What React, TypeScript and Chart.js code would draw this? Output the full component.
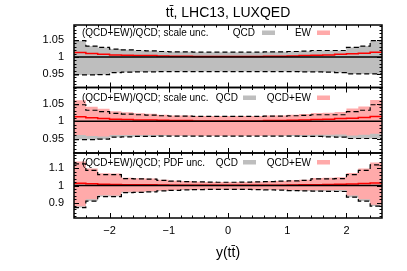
import React, { useEffect, useRef } from 'react';
import { Chart, registerables } from 'chart.js';

Chart.register(...registerables);

// ---------- data ----------
const binEdges = [-2.6, -2.4, -2.2, -2.0, -1.8, -1.6, -1.4, -1.2, -1.0, -0.8, -0.6, -0.4, -0.2, 0, 0.2, 0.4, 0.6, 0.8, 1.0, 1.2, 1.4, 1.6, 1.8, 2.0, 2.2, 2.4, 2.6];

// (QCD+EW)/QCD central ratio
const ewRatio = [1.013, 1.010, 1.008, 1.006, 1.005, 1.004, 1.004, 1.003, 1.002, 1.002, 1.001, 1.001, 1.001, 1.001, 1.001, 1.001, 1.002, 1.002, 1.003, 1.004, 1.005, 1.006, 1.008, 1.009, 1.011, 1.014];

// QCD scale uncertainty band
const qcdScaleUp = [1.048, 1.032, 1.028, 1.023, 1.021, 1.019, 1.018, 1.016, 1.015, 1.015, 1.014, 1.014, 1.014, 1.014, 1.014, 1.014, 1.015, 1.015, 1.016, 1.017, 1.019, 1.019, 1.019, 1.028, 1.032, 1.048];
const qcdScaleLo = [0.947, 0.947, 0.948, 0.954, 0.955, 0.956, 0.956, 0.957, 0.957, 0.957, 0.957, 0.957, 0.957, 0.957, 0.957, 0.957, 0.957, 0.957, 0.957, 0.956, 0.956, 0.955, 0.954, 0.950, 0.950, 0.950];

// QCD+EW scale uncertainty band
const qcdEwScaleUp = [1.061, 1.042, 1.036, 1.029, 1.026, 1.023, 1.022, 1.019, 1.017, 1.017, 1.015, 1.015, 1.015, 1.015, 1.015, 1.015, 1.017, 1.017, 1.019, 1.021, 1.024, 1.025, 1.027, 1.037, 1.043, 1.062];
const qcdEwScaleLo = [0.960, 0.957, 0.956, 0.960, 0.960, 0.960, 0.960, 0.960, 0.959, 0.959, 0.958, 0.958, 0.958, 0.958, 0.958, 0.958, 0.959, 0.959, 0.960, 0.960, 0.961, 0.961, 0.962, 0.959, 0.961, 0.964];

// QCD PDF uncertainty band
const qcdPdfUp = [1.127, 1.089, 1.064, 1.064, 1.040, 1.039, 1.037, 1.030, 1.026, 1.023, 1.021, 1.020, 1.019, 1.019, 1.020, 1.021, 1.023, 1.025, 1.027, 1.030, 1.039, 1.039, 1.040, 1.064, 1.088, 1.121];
const qcdPdfLo = [0.871, 0.909, 0.935, 0.935, 0.958, 0.960, 0.963, 0.968, 0.972, 0.974, 0.976, 0.977, 0.977, 0.977, 0.977, 0.976, 0.975, 0.973, 0.970, 0.968, 0.967, 0.966, 0.965, 0.932, 0.909, 0.880];

// QCD+EW PDF uncertainty band
const qcdEwPdfUp = [1.140, 1.099, 1.072, 1.070, 1.045, 1.043, 1.041, 1.033, 1.028, 1.025, 1.022, 1.021, 1.020, 1.020, 1.021, 1.022, 1.025, 1.027, 1.030, 1.034, 1.044, 1.045, 1.048, 1.073, 1.099, 1.135];
const qcdEwPdfLo = [0.878, 0.919, 0.943, 0.941, 0.963, 0.964, 0.967, 0.971, 0.974, 0.976, 0.977, 0.978, 0.978, 0.978, 0.978, 0.977, 0.977, 0.975, 0.973, 0.972, 0.972, 0.972, 0.973, 0.941, 0.920, 0.887];

const refValue = 1;
const xRange = [-2.6, 2.6];

const titleText = 'tt\u0304, LHC13, LUXQED';
const xTitleText = 'y(tt\u0304)';
const panelLabels = ['(QCD+EW)/QCD; scale unc.', '(QCD+EW)/QCD; scale unc.', '(QCD+EW)/QCD; PDF unc.'];
const legendNames = [['QCD', 'EW'], ['QCD', 'QCD+EW'], ['QCD', 'QCD+EW']];

// ---------- styles ----------
const GRAY = 'rgb(190,190,190)';
const PINK = 'rgb(255,170,170)';
const FONT = '"Liberation Sans", Arial, Helvetica, sans-serif';

const panels = [
  { id: 'y1', min: 0.91, max: 1.094, minor: 0.01, weight: 62.5, base: 36, legendX: [[255, 262], [311, 317]] },
  { id: 'y2', min: 0.908, max: 1.098, minor: 0.01, weight: 65.5, base: 101, legendX: [[238, 243], [311, 317]] },
  { id: 'y3', min: 0.81, max: 1.19, minor: 0.02, weight: 65, base: 165.5, legendX: [[238, 243], [311, 317]] },
];

function stepPts(vals: number[]) {
  return binEdges.map((x, i) => ({ x, y: vals[Math.min(i, vals.length - 1)] }));
}

function buildDatasets() {
  const ds: any[] = [];
  const band = (axis: string, up: number[], lo: number[], color: string, order: number) => {
    const loIdx = ds.length + 1;
    ds.push({ yAxisID: axis, data: stepPts(up), stepped: true, borderWidth: 0, borderColor: 'rgba(0,0,0,0)', pointRadius: 0, fill: { target: loIdx }, backgroundColor: color, order });
    ds.push({ yAxisID: axis, data: stepPts(lo), stepped: true, borderWidth: 0, borderColor: 'rgba(0,0,0,0)', pointRadius: 0, fill: false, order });
  };
  const dashed = (axis: string, vals: number[]) => {
    ds.push({ yAxisID: axis, data: stepPts(vals), stepped: true, borderWidth: 1.2, borderColor: '#000', borderDash: [5, 3], pointRadius: 0, fill: false, order: 2 });
  };
  const red = (axis: string) => {
    ds.push({ yAxisID: axis, data: stepPts(ewRatio), stepped: true, borderWidth: 1.5, borderColor: '#ff0000', pointRadius: 0, fill: false, order: 1 });
  };
  const unit = (axis: string) => {
    ds.push({ yAxisID: axis, data: xRange.map((x) => ({ x, y: refValue })), borderWidth: 1.5, borderColor: '#000', pointRadius: 0, fill: false, order: 0 });
  };
  // panel 1
  band('y1', qcdScaleUp, qcdScaleLo, GRAY, 5);
  dashed('y1', qcdScaleUp);
  dashed('y1', qcdScaleLo);
  red('y1');
  unit('y1');
  // panel 2
  band('y2', qcdScaleUp, qcdScaleLo, GRAY, 5);
  band('y2', qcdEwScaleUp, qcdEwScaleLo, PINK, 4);
  dashed('y2', qcdScaleUp);
  dashed('y2', qcdScaleLo);
  red('y2');
  unit('y2');
  // panel 3
  band('y3', qcdPdfUp, qcdPdfLo, GRAY, 5);
  band('y3', qcdEwPdfUp, qcdEwPdfLo, PINK, 4);
  dashed('y3', qcdPdfUp);
  dashed('y3', qcdPdfLo);
  red('y3');
  unit('y3');
  return ds;
}

const framePlugin = {
  id: 'frameTicks',
  afterDatasetsDraw(chart: any) {
    const ctx = chart.ctx;
    const xs = chart.scales.x;
    const L = chart.chartArea.left;
    const R = chart.chartArea.right;
    ctx.save();
    ctx.strokeStyle = '#000';
    panels.forEach((p) => {
      const s = chart.scales[p.id];
      const T = s.top;
      const B = s.bottom;
      ctx.lineWidth = 1;
      ctx.beginPath();
      for (let k = -12; k <= 12; k++) {
        const px = Math.round(xs.getPixelForValue(k * 0.2)) + 0.5;
        const len = k % 5 === 0 ? 5 : 2.5;
        ctx.moveTo(px, B);
        ctx.lineTo(px, B - len);
        ctx.moveTo(px, T);
        ctx.lineTo(px, T + len);
      }
      const n0 = Math.ceil(p.min / p.minor - 1e-6);
      const n1 = Math.floor(p.max / p.minor + 1e-6);
      for (let n = n0; n <= n1; n++) {
        const py = Math.round(s.getPixelForValue(n * p.minor)) + 0.5;
        const len = n % 5 === 0 ? 5 : 2.5;
        ctx.moveTo(L, py);
        ctx.lineTo(L + len, py);
        ctx.moveTo(R, py);
        ctx.lineTo(R - len, py);
      }
      ctx.stroke();
      ctx.lineWidth = 1.5;
      ctx.strokeRect(L, T, R - L, B - T);
    });
    ctx.restore();
  },
  afterDraw(chart: any) {
    const ctx = chart.ctx;
    const ca = chart.chartArea;
    const cx = (ca.left + ca.right) / 2;
    ctx.save();
    ctx.fillStyle = '#000';
    ctx.textBaseline = 'alphabetic';
    ctx.textAlign = 'center';
    ctx.font = `14px ${FONT}`;
    ctx.fillText(titleText, cx, 17);
    ctx.fillText(xTitleText, cx, 257);
    panels.forEach((p, i) => {
      ctx.font = `10px ${FONT}`;
      ctx.textAlign = 'left';
      ctx.fillStyle = '#000';
      ctx.fillText(panelLabels[i], 82, p.base);
      const names = legendNames[i];
      const colors = [GRAY, PINK];
      names.forEach((nm, j) => {
        const [tx, sx] = p.legendX[j];
        ctx.textAlign = 'right';
        ctx.fillStyle = '#000';
        ctx.fillText(nm, tx, p.base);
        ctx.fillStyle = colors[j];
        ctx.fillRect(sx, p.base - 5.5, 13, 4.5);
      });
    });
    ctx.restore();
  },
};

export default function App() {
  const ref = useRef<HTMLCanvasElement | null>(null);
  useEffect(() => {
    if (!ref.current) return;
    const tickFont = { family: FONT, size: 11 };
    const yScale = (p: any, step: number, w: number) => ({
      type: 'linear',
      position: 'left',
      stack: 'panels',
      stackWeight: p.weight,
      weight: w,
      min: p.min,
      max: p.max,
      grid: { display: false, drawTicks: false },
      border: { display: false },
      ticks: {
        stepSize: step,
        includeBounds: false,
        padding: 10,
        color: '#000',
        font: tickFont,
        callback: (v: number) => String(Math.round(v * 1000) / 1000),
      },
      afterFit: (s: any) => {
        s.width = 74;
      },
    });
    const chart = new Chart(ref.current, {
      type: 'line',
      data: { datasets: buildDatasets() },
      options: {
        responsive: false,
        animation: false,
        events: [],
        layout: { padding: { left: 0, right: 25, top: 25, bottom: 0 } },
        plugins: { legend: { display: false }, tooltip: { enabled: false }, title: { display: false } },
        scales: {
          x: {
            type: 'linear',
            min: xRange[0],
            max: xRange[1],
            position: 'bottom',
            grid: { display: false, drawTicks: false },
            border: { display: false },
            ticks: {
              stepSize: 1,
              includeBounds: false,
              padding: 6,
              color: '#000',
              font: tickFont,
              callback: (v: number) => (v < 0 ? '\u2212' + Math.abs(v) : String(v)),
            },
            afterFit: (s: any) => {
              s.height = 53;
            },
          },
          y3: yScale(panels[2], 0.1, 1),
          y2: yScale(panels[1], 0.05, 2),
          y1: yScale(panels[0], 0.05, 3),
        } as any,
      },
      plugins: [framePlugin],
    } as any);
    return () => chart.destroy();
  }, []);
  return (
    <div style={{ position: 'fixed', left: 0, top: 0, width: 407, height: 271, background: '#fff' }}>
      <canvas ref={ref} width={407} height={271} style={{ display: 'block', width: 407, height: 271 }} />
    </div>
  );
}
